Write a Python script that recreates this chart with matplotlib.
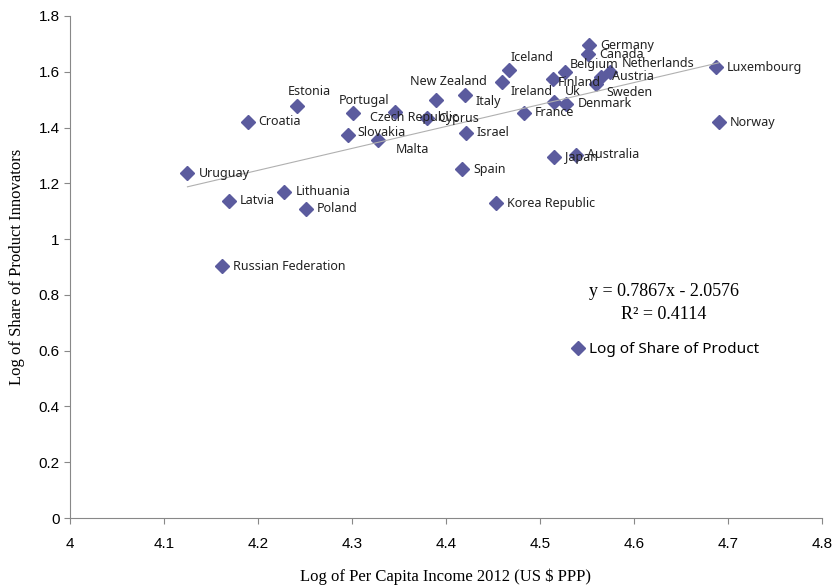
import matplotlib
matplotlib.use("Agg")
import matplotlib.pyplot as plt
import numpy as np

# datos
paises = ["Uruguay", "Croatia", "Estonia", "Latvia", "Lithuania", "Poland",
          "Russian Federation", "Portugal", "Slovakia", "Czech Republic", "Malta",
          "Cyprus", "New Zealand", "Italy", "Israel", "Spain", "Iceland", "Ireland",
          "France", "Korea Republic", "Finland", "Belgium", "Uk", "Denmark", "Japan",
          "Australia", "Germany", "Canada", "Netherlands", "Austria", "Sweden",
          "Luxembourg", "Norway"]
ingreso = [4.125, 4.189, 4.241, 4.169, 4.228, 4.251, 4.162, 4.301, 4.296, 4.346,
           4.328, 4.380, 4.389, 4.420, 4.421, 4.417, 4.467, 4.460, 4.483, 4.453,
           4.514, 4.527, 4.515, 4.528, 4.515, 4.538, 4.552, 4.551, 4.574, 4.565,
           4.560, 4.687, 4.690]
innov = [1.237, 1.420, 1.477, 1.137, 1.169, 1.108, 0.903, 1.452, 1.373, 1.456,
         1.355, 1.433, 1.499, 1.517, 1.381, 1.251, 1.606, 1.565, 1.453, 1.129,
         1.573, 1.598, 1.493, 1.486, 1.293, 1.302, 1.695, 1.662, 1.600, 1.583,
         1.555, 1.616, 1.419]
pendiente = 0.7867
intercepto = -2.0576
r2 = 0.4114

# desplazamiento de etiquetas (pixeles) y alineacion
offs = {"Estonia": (13, 15, "center"), "Portugal": (11, 13, "center"),
        "Czech Republic": (-25, -6, "left"), "Malta": (17, -9, "left"),
        "New Zealand": (13, 18, "center"), "Italy": (11, -7, "left"),
        "Iceland": (23, 13, "center"), "Ireland": (8, -10, "left"),
        "Finland": (5, -3, "left"), "Belgium": (4, 8, "left"),
        "Uk": (11, 10, "left"), "Netherlands": (12, 8, "left"),
        "Sweden": (10, -8, "left"), "Slovakia": (9, 3, "left")}

color = "#5b5b9e"
fig = plt.figure(figsize=(8.37, 5.86), dpi=100)
ax = fig.add_axes([0.0836, 0.116, 0.8984, 0.8567])

ax.plot(ingreso, innov, "D", color=color, markersize=7, label="Log of Share of Product")

xs = np.array([min(ingreso), max(ingreso)])
ax.plot(xs, pendiente * xs + intercepto, color="#b0b0b0", lw=0.8)

for p, x, y in zip(paises, ingreso, innov):
    dx, dy, ha = offs.get(p, (11, 0, "left"))
    ax.annotate(p, (x, y), xytext=(dx, dy), textcoords="offset pixels",
                ha=ha, va="center", fontsize=9, family="Noto Sans", color="#222222")

ax.text(0.79, 0.452, "y = %.4fx - %.4f" % (pendiente, -intercepto), transform=ax.transAxes,
        ha="center", va="center", fontsize=13, family="Liberation Serif")
ax.text(0.79, 0.406, "R\u00b2 = %.4f" % r2, transform=ax.transAxes,
        ha="center", va="center", fontsize=13, family="Liberation Serif")

ax.legend(loc="center left", bbox_to_anchor=(0.651, 0.335), frameon=False,
          handlelength=0.6, handletextpad=0.4, prop={"family": "Noto Sans", "size": 11})

ax.set_xlim(4, 4.8)
ax.set_ylim(0, 1.8)
ax.set_xticks(np.arange(4, 4.81, 0.1))
ax.set_xticklabels(["4", "4.1", "4.2", "4.3", "4.4", "4.5", "4.6", "4.7", "4.8"])
ax.set_yticks(np.arange(0, 1.81, 0.2))
ax.set_yticklabels(["0", "0.2", "0.4", "0.6", "0.8", "1", "1.2", "1.4", "1.6", "1.8"])
ax.tick_params(labelsize=11, color="#888888", length=4)
for lab in ax.get_xticklabels() + ax.get_yticklabels():
    lab.set_family(["Liberation Sans Narrow", "Liberation Sans"])
ax.tick_params(axis="x", pad=10)
ax.spines["top"].set_visible(False)
ax.spines["right"].set_visible(False)
ax.spines["left"].set_color("#888888")
ax.spines["bottom"].set_color("#888888")

ax.set_xlabel("Log of Per Capita Income 2012 (US $ PPP)", family="Liberation Serif",
              fontsize=12, labelpad=12)
ax.set_ylabel("Log of Share of Product Innovators", family="Liberation Serif",
              fontsize=12, labelpad=10)

fig.savefig("out.png", dpi=100)
